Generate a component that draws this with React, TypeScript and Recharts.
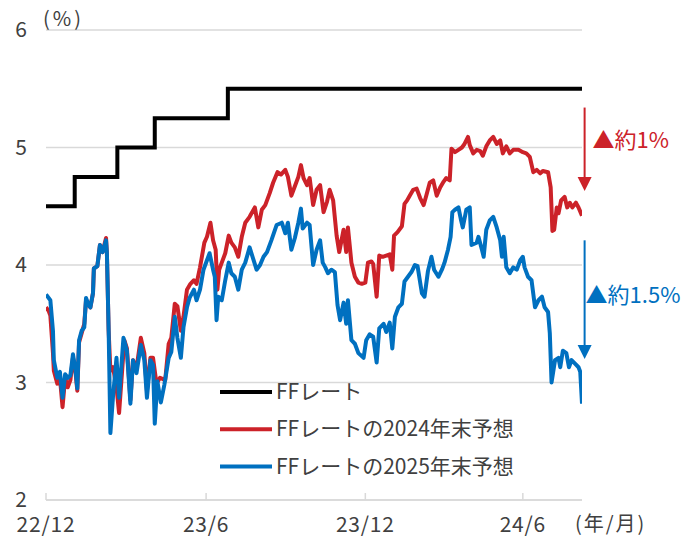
import React from "react";
import {
  LineChart,
  Line,
  XAxis,
  YAxis,
  CartesianGrid,
  ReferenceLine,
  Legend,
} from "recharts";

// x = trading-calendar day counted from the left edge of the chart (end of Dec 2022)
const xTicks = [0, 184, 367, 548];
const xTickLabels = ["22/12", "23/6", "23/12", "24/6"];
const yTicks = [2, 3, 4, 5, 6];

const seriesNames = ["FFレート", "FFレートの2024年末予想", "FFレートの2025年末予想"];
const seriesColors = ["#000000", "#cc2229", "#0070c0"];

// FF rate (upper bound), step changes
const ffDays = [0, 33, 82, 125, 209, 616];
const ffVals = [4.5, 4.75, 5.0, 5.25, 5.5, 5.5];

// market expectation for end of 2024
const redDays = [
  0, 3, 5, 8, 9, 13, 16, 19, 22, 25,
  28, 31, 34, 36, 38, 41, 44, 46, 49, 51,
  54, 55, 59, 62, 65, 69, 70, 72, 74, 77,
  81, 84, 90, 93, 97, 100, 104, 109, 113, 116,
  120, 123, 127, 131, 137, 141, 144, 148, 151, 155,
  158, 162, 166, 170, 173, 177, 182, 185, 189, 192,
  195, 197, 199, 202, 206, 210, 213, 217, 221, 225,
  229, 234, 240, 244, 248, 252, 257, 261, 266, 270,
  275, 278, 282, 286, 290, 293, 296, 300, 303, 307,
  311, 315, 319, 323, 326, 330, 334, 337, 342, 345,
  347, 351, 355, 359, 363, 367, 370, 374, 376, 380,
  383, 387, 391, 395, 398, 400, 404, 409, 412, 415,
  418, 422, 426, 430, 434, 437, 441, 445, 449, 453,
  457, 460, 464, 466, 470, 474, 478, 481, 485, 487,
  491, 495, 499, 502, 506, 510, 514, 518, 522, 525,
  529, 533, 537, 543, 548, 552, 556, 560, 564, 568,
  571, 577, 580, 582, 584, 587, 589, 592, 596, 599,
  602, 605, 609, 612, 616,
];
const redVals = [
  3.64, 3.61, 3.57, 3.25, 3.10, 2.99, 3.04, 2.79, 3.04, 2.96,
  3.02, 3.21, 3.08, 2.93, 3.34, 3.42, 3.50, 3.70, 3.66, 3.64,
  3.76, 3.97, 3.99, 4.17, 4.11, 4.23, 4.10, 3.44, 3.10, 3.13,
  2.96, 2.74, 3.36, 3.29, 2.85, 3.19, 3.12, 3.38, 3.25, 2.93,
  3.21, 3.21, 2.99, 3.04, 3.02, 3.33, 3.38, 3.67, 3.65, 3.44,
  3.56, 3.79, 3.84, 3.87, 3.84, 3.98, 4.19, 4.24, 4.36, 4.21,
  4.13, 3.79, 3.96, 4.02, 4.10, 4.25, 4.19, 4.15, 4.07, 4.24,
  4.36, 4.41, 4.49, 4.32, 4.47, 4.51, 4.61, 4.70, 4.79, 4.77,
  4.81, 4.75, 4.59, 4.67, 4.75, 4.85, 4.74, 4.68, 4.74, 4.51,
  4.64, 4.68, 4.45, 4.54, 4.64, 4.55, 4.25, 4.11, 4.30, 4.11,
  4.32, 4.02, 3.90, 3.85, 3.84, 3.85, 4.02, 4.03, 4.01, 3.73,
  4.08, 4.07, 4.08, 4.09, 3.96, 4.25, 4.28, 4.33, 4.52, 4.55,
  4.59, 4.64, 4.65, 4.57, 4.51, 4.59, 4.70, 4.72, 4.59, 4.66,
  4.71, 4.74, 4.72, 4.99, 4.96, 4.98, 5.00, 5.03, 5.09, 5.02,
  4.95, 4.98, 4.97, 4.93, 5.01, 5.06, 5.09, 5.03, 5.06, 4.95,
  5.01, 4.95, 4.98, 4.98, 4.96, 4.95, 4.92, 4.79, 4.81, 4.78,
  4.80, 4.79, 4.66, 4.29, 4.30, 4.49, 4.44, 4.55, 4.58, 4.49,
  4.53, 4.49, 4.53, 4.49, 4.42,
];

// market expectation for end of 2025
const blueDays = [
  0, 5, 8, 9, 13, 16, 19, 22, 25, 28,
  31, 34, 36, 38, 41, 44, 46, 49, 51, 54,
  55, 59, 62, 65, 69, 70, 72, 74, 77, 81,
  84, 89, 93, 97, 100, 104, 109, 113, 116, 120,
  123, 125, 128, 132, 136, 141, 144, 148, 151, 155,
  158, 162, 165, 170, 173, 177, 181, 185, 188, 192,
  194, 196, 198, 202, 206, 210, 213, 217, 221, 225,
  229, 234, 242, 246, 250, 254, 259, 265, 271, 275,
  278, 282, 286, 290, 293, 295, 300, 303, 307, 311,
  315, 318, 321, 324, 328, 332, 335, 338, 342, 345,
  347, 351, 355, 359, 365, 368, 372, 376, 380, 383,
  388, 391, 395, 398, 401, 405, 409, 412, 416, 420,
  424, 427, 432, 435, 439, 443, 446, 451, 455, 458,
  462, 465, 467, 470, 474, 477, 479, 483, 487, 489,
  495, 497, 501, 503, 506, 510, 514, 518, 522, 524,
  526, 529, 533, 537, 541, 545, 548, 550, 554, 558,
  562, 566, 570, 573, 577, 579, 581, 585, 589, 591,
  594, 598, 601, 604, 608, 612, 614, 616,
];
const blueVals = [
  3.75, 3.70, 3.44, 3.19, 3.04, 3.09, 2.87, 3.07, 3.04, 3.06,
  3.24, 3.10, 2.95, 3.36, 3.44, 3.47, 3.72, 3.66, 3.64, 3.76,
  3.97, 3.99, 4.17, 4.11, 4.21, 4.10, 3.44, 2.57, 2.88, 3.21,
  2.87, 3.38, 3.27, 2.82, 3.19, 3.08, 3.32, 3.19, 2.87, 3.19,
  3.15, 2.65, 3.01, 2.83, 2.98, 3.21, 3.26, 3.56, 3.38, 3.21,
  3.47, 3.64, 3.72, 3.79, 3.70, 3.79, 3.96, 4.04, 4.10, 3.96,
  3.90, 3.53, 3.73, 3.70, 3.87, 4.02, 3.93, 3.90, 3.79, 3.96,
  4.02, 4.15, 3.96, 4.00, 4.07, 4.11, 4.21, 4.34, 4.36, 4.27,
  4.36, 4.13, 4.23, 4.36, 4.48, 4.31, 4.36, 4.34, 4.00, 4.13,
  4.21, 4.02, 3.98, 3.93, 3.96, 3.94, 3.66, 3.53, 3.68, 3.50,
  3.70, 3.36, 3.33, 3.25, 3.21, 3.36, 3.41, 3.39, 3.17, 3.46,
  3.50, 3.43, 3.51, 3.29, 3.56, 3.64, 3.67, 3.86, 3.90, 3.94,
  4.00, 3.99, 3.76, 3.73, 3.95, 4.07, 3.96, 3.90, 3.96, 4.02,
  4.13, 4.24, 4.45, 4.47, 4.49, 4.38, 4.32, 4.47, 4.49, 4.17,
  4.19, 4.24, 4.13, 4.07, 4.30, 4.38, 4.41, 4.32, 4.21, 4.07,
  4.24, 3.98, 3.93, 3.98, 3.96, 4.04, 4.07, 3.98, 3.90, 3.87,
  3.64, 3.70, 3.73, 3.64, 3.60, 3.42, 3.00, 3.19, 3.21, 3.13,
  3.27, 3.25, 3.13, 3.19, 3.16, 3.13, 3.09, 2.82,
];

// arrows on the right: [day, from, to]
const redArrow = [619, 5.34, 4.63];
const blueArrow = [619, 4.21, 3.2];
const redArrowText = "▲約1%";
const blueArrowText = "▲約1.5%";

const FONT = "'Noto Sans CJK JP', 'Noto Sans', sans-serif";
const TEXT = "#404040";

const zip = (days: number[], vals: number[]) =>
  days.map((day, i) => ({ day, v: vals[i] }));

const ffData = zip(ffDays, ffVals);
const redData = zip(redDays, redVals);
const blueData = zip(blueDays, blueVals);

const XTick = (props: any) => {
  const { x, y, payload } = props;
  const label = xTickLabels[xTicks.indexOf(payload.value)];
  return (
    <g>
      <line x1={x} x2={x} y1={y} y2={y - 7} stroke="#d9d9d9" strokeWidth={1.5} />
      <text
        x={x}
        y={y + 32}
        textAnchor="middle"
        fill={TEXT}
        fontSize={21}
        letterSpacing={0.8}
        fontFamily={FONT}
      >
        {label}
      </text>
    </g>
  );
};

const YTick = (props: any) => {
  const { x, y, payload } = props;
  return (
    <text x={x - 19} y={y + 7} textAnchor="end" fill={TEXT} fontSize={21} fontFamily={FONT}>
      {payload.value}
    </text>
  );
};

const arrowShape = (color: string, label: string, dx: number, dy: number) => (props: any) => {
  const { x1, y1, x2, y2 } = props;
  return (
    <g>
      <line x1={x1} y1={y1} x2={x2} y2={y2 - 12} stroke={color} strokeWidth={2} />
      <polygon points={`${x2 - 7},${y2 - 14} ${x2 + 7},${y2 - 14} ${x2},${y2}`} fill={color} />
      <text x={x1 + dx} y={(y1 + y2) / 2 + dy} fill={color} fontSize={22} fontFamily={FONT}>
        {label}
      </text>
    </g>
  );
};

const renderLegend = () => (
  <svg width={340} height={110}>
    {seriesNames.map((name, i) => {
      const cy = 18 + i * 37.3;
      return (
        <g key={name}>
          <line x1={8} x2={60} y1={cy} y2={cy} stroke={seriesColors[i]} strokeWidth={4} />
          <text x={64} y={cy + 7} fill={TEXT} fontSize={21} fontFamily={FONT}>
            {name}
          </text>
        </g>
      );
    })}
  </svg>
);

export default function App() {
  return (
    <div
      style={{
        position: "absolute",
        left: 0,
        top: 0,
        width: 686,
        height: 538,
        background: "#fff",
        fontFamily: FONT,
      }}
    >
      <LineChart width={686} height={538} margin={{ top: 30, right: 104, bottom: 8, left: 0 }}>
        <CartesianGrid vertical={false} stroke="#d9d9d9" strokeWidth={1.5} />
        <XAxis
          type="number"
          dataKey="day"
          domain={[0, 616]}
          ticks={xTicks}
          interval={0}
          height={30}
          tickSize={0}
          tickMargin={0}
          tickLine={false}
          axisLine={{ stroke: "#d9d9d9", strokeWidth: 1.5 }}
          tick={<XTick />}
          allowDataOverflow
        />
        <YAxis
          type="number"
          domain={[2, 6]}
          ticks={yTicks}
          interval={0}
          width={46}
          tickSize={0}
          tickMargin={0}
          tickLine={false}
          axisLine={false}
          tick={<YTick />}
        />
        <Line
          data={ffData}
          dataKey="v"
          name={seriesNames[0]}
          type="stepAfter"
          stroke={seriesColors[0]}
          strokeWidth={4}
          dot={false}
          isAnimationActive={false}
        />
        <Line
          data={redData}
          dataKey="v"
          name={seriesNames[1]}
          type="linear"
          stroke={seriesColors[1]}
          strokeWidth={4}
          strokeLinejoin="round"
          dot={false}
          isAnimationActive={false}
        />
        <Line
          data={blueData}
          dataKey="v"
          name={seriesNames[2]}
          type="linear"
          stroke={seriesColors[2]}
          strokeWidth={4}
          strokeLinejoin="round"
          dot={false}
          isAnimationActive={false}
        />
        <ReferenceLine
          segment={[
            { x: redArrow[0], y: redArrow[1] },
            { x: redArrow[0], y: redArrow[2] },
          ]}
          ifOverflow="visible"
          shape={arrowShape(seriesColors[1], redArrowText, 8, -1)}
        />
        <ReferenceLine
          segment={[
            { x: blueArrow[0], y: blueArrow[1] },
            { x: blueArrow[0], y: blueArrow[2] },
          ]}
          ifOverflow="visible"
          shape={arrowShape(seriesColors[2], blueArrowText, 1, 3)}
        />
        <Legend
          layout="vertical"
          align="center"
          verticalAlign="middle"
          content={renderLegend}
          wrapperStyle={{ position: "absolute", left: 212, top: 374, width: 340, height: 110 }}
        />
      </LineChart>
      <div
        style={{
          position: "absolute",
          left: 43,
          top: 6,
          fontSize: 20,
          color: TEXT,
          letterSpacing: 3,
          lineHeight: "24px",
        }}
      >
        (%)
      </div>
      <div
        style={{
          position: "absolute",
          left: 575,
          top: 511,
          fontSize: 20,
          color: TEXT,
          letterSpacing: 2,
          lineHeight: "24px",
          whiteSpace: "nowrap",
        }}
      >
        (年/月)
      </div>
    </div>
  );
}
